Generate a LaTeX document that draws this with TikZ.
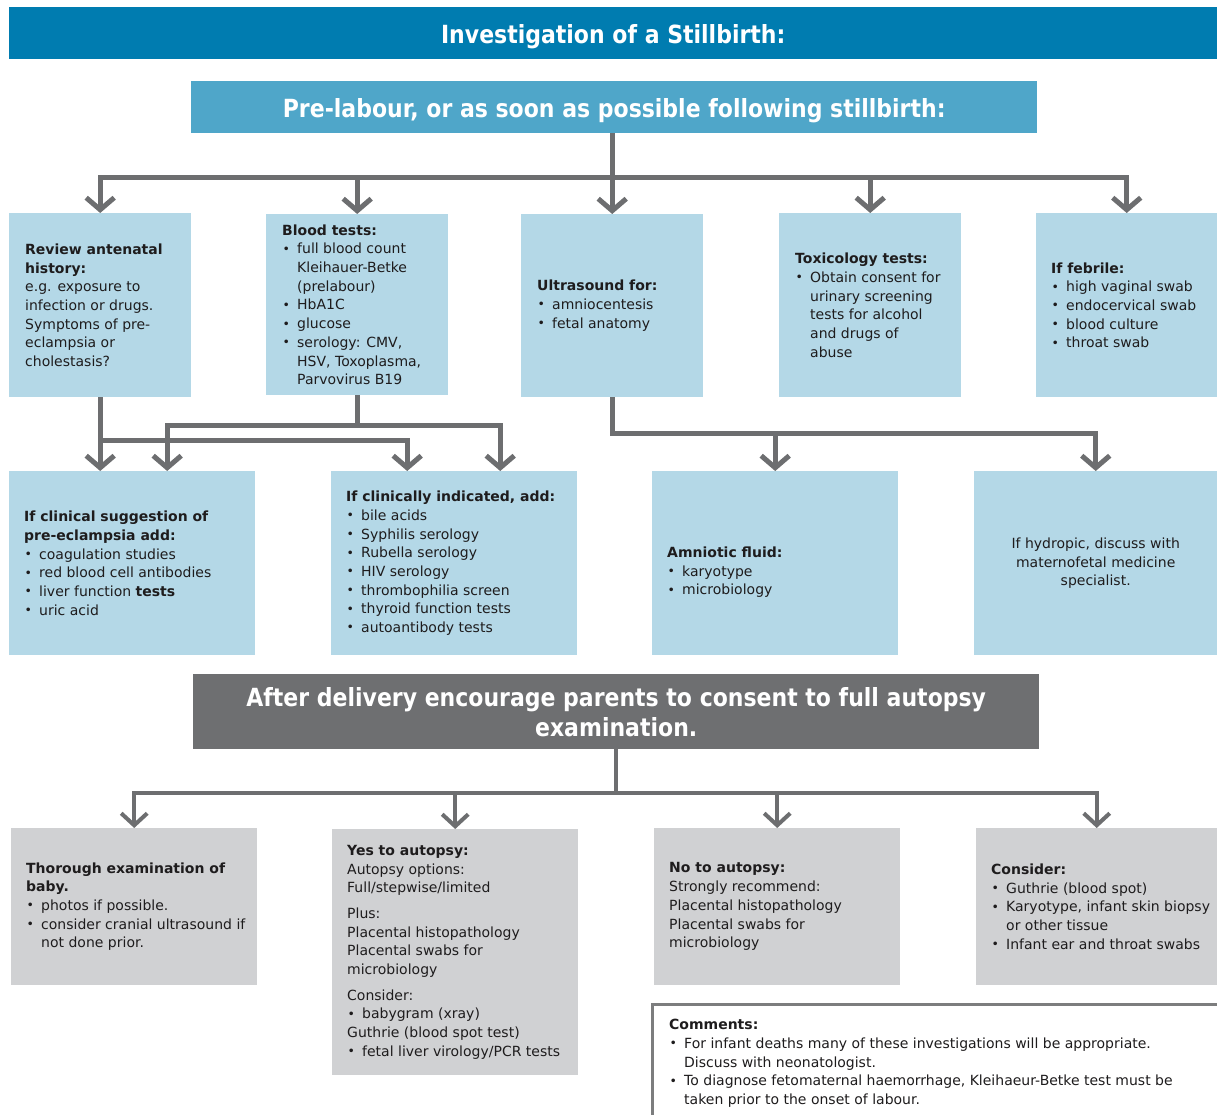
\documentclass[tikz,border=0pt]{standalone}
\usepackage{fontspec}
\setmainfont{DejaVu Sans}
\newfontfamily\headfont[FakeStretch=0.88]{DejaVu Sans}
\usetikzlibrary{arrows.meta}
\definecolor{barblue}{RGB}{0,124,176}
\definecolor{midblue}{RGB}{79,166,201}
\definecolor{lightblue}{RGB}{180,216,231}
\definecolor{lightgray}{RGB}{208,209,211}
\definecolor{darkgray}{RGB}{110,111,113}
\definecolor{conngray}{RGB}{109,110,112}
\definecolor{textc}{RGB}{30,28,29}
\newcommand\mybul{\makebox[15pt][l]{\hspace{0.5pt}\raisebox{0.6pt}{\fontsize{12.5}{12}\selectfont\textbullet}}}
\newcommand\myind{\hspace*{15pt}}
\begin{document}
\begin{tikzpicture}[x=1pt,y=-1pt,
  bar/.style={anchor=north west, inner sep=0, text=white,
    font=\headfont\bfseries\fontsize{25}{30}\selectfont, align=center},
  onebar/.style={bar, text height=21.5pt, text depth=0pt},
  bbox/.style={anchor=north west, inner sep=0, fill=lightblue},
  gbox/.style={anchor=north west, inner sep=0, fill=lightgray},
  txt/.style={anchor=west, inner sep=0, align=left, text=textc,
    font=\fontsize{14}{18.7}\selectfont},
  conn/.style={draw=conngray, line width=5pt},
  arr/.style={conn, -{Straight Barb[length=12pt,width=28pt]}},
  arrthin/.style={draw=conngray, line width=4pt, -{Straight Barb[length=12pt,width=26pt]}},
  cmline/.style={draw=conngray!90, line width=3pt}]
\useasboundingbox[fill=white] (0,0) rectangle (1217,1115);

% headers
\node[onebar, fill=barblue, minimum width=1208, minimum height=52] (T) at (9,7) {Investigation of a Stillbirth:};
\node[onebar, fill=midblue, minimum width=846, minimum height=52] (P) at (191,81) {Pre-labour, or as soon as possible following stillbirth:};

% row 1
\node[bbox, minimum width=182, minimum height=184] (A) at (9,213) {};
\node[bbox, minimum width=182, minimum height=181] (B) at (266,214) {};
\node[bbox, minimum width=182, minimum height=183] (C) at (521,214) {};
\node[bbox, minimum width=182, minimum height=184] (D) at (779,213) {};
\node[bbox, minimum width=181, minimum height=184] (E) at (1036,213) {};

\node[txt] (At) at ([xshift=16pt]A.west) {\textbf{Review antenatal}\\\textbf{history:}\\e.g. exposure to\\infection or drugs.\\Symptoms of pre-\\eclampsia or\\cholestasis?};
\node[txt] (Bt) at ([xshift=16pt]B.west) {\textbf{Blood tests:}\\\mybul full blood count\\\myind Kleihauer-Betke\\\myind (prelabour)\\\mybul HbA1C\\\mybul glucose\\\mybul serology: CMV,\\\myind HSV, Toxoplasma,\\\myind Parvovirus B19};
\node[txt] (Ct) at ([xshift=16pt]C.west) {\textbf{Ultrasound for:}\\\mybul amniocentesis\\\mybul fetal anatomy};
\node[txt] (Dt) at ([xshift=16pt]D.west) {\textbf{Toxicology tests:}\\\mybul Obtain consent for\\\myind urinary screening\\\myind tests for alcohol\\\myind and drugs of\\\myind abuse};
\node[txt] (Et) at ([xshift=15pt]E.west) {\textbf{If febrile:}\\\mybul high vaginal swab\\\mybul endocervical swab\\\mybul blood culture\\\mybul throat swab};

% row 2
\node[bbox, minimum width=246, minimum height=184] (F) at (9,471) {};
\node[bbox, minimum width=246, minimum height=184] (G) at (331,471) {};
\node[bbox, minimum width=246, minimum height=184] (H) at (652,471) {};
\node[bbox, minimum width=243, minimum height=184] (I) at (974,471) {};

\node[txt] (Ft) at ([xshift=15pt]F.west) {\textbf{If clinical suggestion of}\\\textbf{pre-eclampsia add:}\\\mybul coagulation studies\\\mybul red blood cell antibodies\\\mybul liver function \textbf{tests}\\\mybul uric acid};
\node[txt] (Gt) at ([xshift=15pt]G.west) {\textbf{If clinically indicated, add:}\\\mybul bile acids\\\mybul Syphilis serology\\\mybul Rubella serology\\\mybul HIV serology\\\mybul thrombophilia screen\\\mybul thyroid function tests\\\mybul autoantibody tests};
\node[txt] (Ht) at ([xshift=15pt,yshift=-9pt]H.west) {\textbf{Amniotic fluid:}\\\mybul karyotype\\\mybul microbiology};
\node[txt, anchor=center, align=center] (It) at (I.center) {If hydropic, discuss with\\maternofetal medicine\\specialist.};

% after delivery
\node[bar, fill=darkgray, minimum width=846, minimum height=75] (Q) at (193,674) {After delivery encourage parents to consent to full autopsy\\examination.};

% row 3
\node[gbox, minimum width=246, minimum height=157] (J) at (11,828) {};
\node[gbox, minimum width=246, minimum height=246] (K) at (332,829) {};
\node[gbox, minimum width=246, minimum height=157] (L) at (654,828) {};
\node[gbox, minimum width=241, minimum height=157] (M) at (976,828) {};

\node[txt] (Jt) at ([xshift=15pt]J.west) {\textbf{Thorough examination of}\\\textbf{baby.}\\\mybul photos if possible.\\\mybul consider cranial ultrasound if\\\myind not done prior.};
\node[txt] (Kt) at ([xshift=15pt]K.west) {\textbf{Yes to autopsy:}\\Autopsy options:\\Full/stepwise/limited\\[7pt]Plus:\\Placental histopathology\\Placental swabs for\\microbiology\\[7pt]Consider:\\\mybul babygram (xray)\\Guthrie (blood spot test)\\\mybul fetal liver virology/PCR tests};
\node[txt] (Lt) at ([xshift=15pt]L.west) {\textbf{No to autopsy:}\\Strongly recommend:\\Placental histopathology\\Placental swabs for\\microbiology};
\node[txt] (Mt) at ([xshift=15pt]M.west) {\textbf{Consider:}\\\mybul Guthrie (blood spot)\\\mybul Karyotype, infant skin biopsy\\\myind or other tissue\\\mybul Infant ear and throat swabs};

% comments
\node[anchor=north west, inner sep=0, minimum width=565, minimum height=111] (CM) at (652,1004) {};
\draw[cmline] (CM.south west) -- (CM.north west) -- (CM.north east);
\node[txt, anchor=north west] (CMt) at (669,1019) {\textbf{Comments:}\\\mybul For infant deaths many of these investigations will be appropriate.\\\myind Discuss with neonatologist.\\\mybul To diagnose fetomaternal haemorrhage, Kleihaeur-Betke test must be\\\myind taken prior to the onset of labour.};

% connectors: top
\coordinate (hb) at (0,178);
\coordinate (ps) at (P.south -| C.north);
\foreach \n in {A,B,D,E} \draw[arr] (ps) -- (ps |- hb) -| (\n.north);
\draw[arr] (ps) -- (C.north);

% connectors: row1 -> row2
\draw[arr] (A.south) -- (A.south |- F.north);
\draw[arr] (A.south) -- ++(0,43) -| ([xshift=-47pt]G.north);
\draw[arr] (B.south) -- ++(0,30) -| ([xshift=35pt]F.north);
\draw[arr] (B.south) -- ++(0,30) -| ([xshift=46pt]G.north);
\draw[arr] (C.south) -- ++(0,36) -| (H.north);
\draw[arr] (C.south) -- ++(0,36) -| (I.north);

% connectors: after delivery
\coordinate (hb3) at (0,793);
\foreach \n in {J,K,L,M} \draw[arrthin] (Q.south) -- (Q.south |- hb3) -| (\n.north);
\end{tikzpicture}
\end{document}
